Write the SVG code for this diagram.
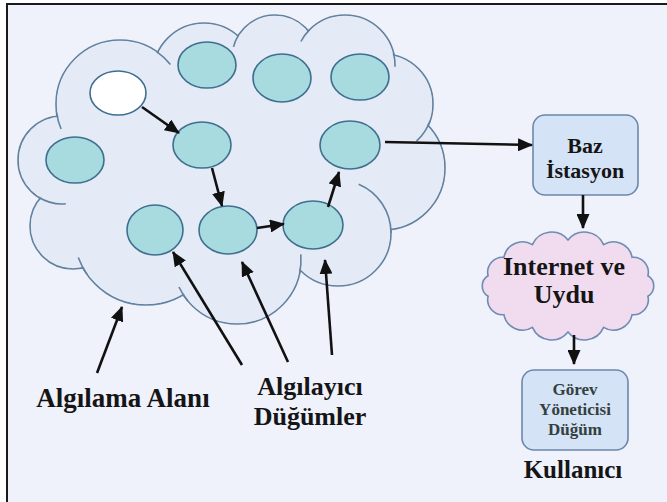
<svg xmlns="http://www.w3.org/2000/svg" width="667" height="502" viewBox="0 0 667 502">
  <defs>
    <style>
      .cloud-line { fill: #e5eaf7; stroke: #62829f; stroke-width: 1.6; }
      .cloud-fill { fill: #e5eaf7; stroke: none; }
      .hook { fill: none; stroke: #62829f; stroke-width: 1.6; }
      .node { fill: #a8dbe0; stroke: #3f6f8f; stroke-width: 1.6; }
      .idle { fill: #ffffff; stroke: #3f6f8f; stroke-width: 1.6; }
      .link { fill: none; stroke: #111111; stroke-width: 2.6; marker-end: url(#ah); }
      .box { fill: #d5e3f6; stroke: #6b87ad; stroke-width: 1.6; }
      .lbl { font-family: "Liberation Serif", "Times New Roman", serif; font-weight: bold; fill: #151515; text-anchor: middle; }
      .small { font-family: "Liberation Serif", "Times New Roman", serif; font-weight: bold; fill: #34403f; text-anchor: middle; font-size: 17px; }
    </style>
    <marker id="ah" viewBox="0 0 15 13" refX="14" refY="6.5" markerWidth="15" markerHeight="13" markerUnits="userSpaceOnUse" orient="auto">
      <path d="M0,0 L15,6.5 L0,13 z" fill="#111111"/>
    </marker>
  </defs>

  <!-- page and frame -->
  <rect x="0" y="0" width="667" height="502" fill="#ffffff"/>
  <rect x="7" y="4" width="700" height="540" fill="#eff1fb" stroke="#1a1a1a" stroke-width="2"/>

  <!-- sensing field: union of bumps -->
  <g id="sensing-field">
    <g>
      <circle class="cloud-line" cx="120" cy="104" r="64"/>
      <circle class="cloud-line" cx="204" cy="74" r="51"/>
      <circle class="cloud-line" cx="275" cy="58" r="43"/>
      <circle class="cloud-line" cx="345" cy="65" r="50"/>
      <circle class="cloud-line" cx="383" cy="104" r="50"/>
      <circle class="cloud-line" cx="383" cy="168" r="62"/>
      <circle class="cloud-line" cx="338" cy="233" r="53"/>
      <circle class="cloud-line" cx="237" cy="260" r="64"/>
      <circle class="cloud-line" cx="146" cy="233" r="72"/>
      <circle class="cloud-line" cx="73" cy="226" r="43"/>
      <circle class="cloud-line" cx="62" cy="160" r="44"/>
    </g>
    <g>
      <circle class="cloud-fill" cx="120" cy="104" r="63"/>
      <circle class="cloud-fill" cx="204" cy="74" r="50"/>
      <circle class="cloud-fill" cx="275" cy="58" r="42"/>
      <circle class="cloud-fill" cx="345" cy="65" r="49"/>
      <circle class="cloud-fill" cx="383" cy="104" r="49"/>
      <circle class="cloud-fill" cx="383" cy="168" r="61"/>
      <circle class="cloud-fill" cx="338" cy="233" r="52"/>
      <circle class="cloud-fill" cx="237" cy="260" r="63"/>
      <circle class="cloud-fill" cx="146" cy="233" r="71"/>
      <circle class="cloud-fill" cx="73" cy="226" r="42"/>
      <circle class="cloud-fill" cx="62" cy="160" r="43"/>
      <ellipse class="cloud-fill" cx="230" cy="165" rx="150" ry="110"/>
    </g>
    <!-- inner arc ends where bumps overlap -->
    <path class="hook" d="M56.6 112.9 A64 64 0 0 0 61.1 129.0"/>
    <path class="hook" d="M156.7 51.6 A64 64 0 0 1 170.4 64.6"/>
    <path class="hook" d="M238.5 35.2 A43 43 0 0 0 233.5 46.9"/>
    <path class="hook" d="M309.6 29.6 A50 50 0 0 0 300.9 41.5"/>
    <path class="hook" d="M393.5 52.9 A50 50 0 0 1 395.0 66.7"/>
    <path class="hook" d="M430.0 121.1 A50 50 0 0 1 416.5 141.2"/>
    <path class="hook" d="M358.7 184.2 A53 53 0 0 1 391 233"/>
    <path class="hook" d="M299.6 273.3 A64 64 0 0 0 300.8 254.4"/>
    <path class="hook" d="M188.0 301.1 A64 64 0 0 1 179.0 287.0"/>
    <path class="hook" d="M87.0 274.3 A72 72 0 0 1 78.3 257.6"/>
    <path class="hook" d="M38.7 197.3 A44 44 0 0 0 65.8 203.8"/>
  </g>

  <!-- sensor nodes -->
  <g id="node-idle"><ellipse class="idle" cx="118" cy="93" rx="28" ry="22"/></g>
  <g id="node-top-1"><ellipse class="node" cx="207" cy="65" rx="29" ry="23"/></g>
  <g id="node-top-2"><ellipse class="node" cx="282" cy="78" rx="29" ry="24"/></g>
  <g id="node-top-3"><ellipse class="node" cx="360" cy="77" rx="29" ry="23"/></g>
  <g id="node-left"><ellipse class="node" cx="75" cy="160" rx="29" ry="23"/></g>
  <g id="node-mid"><ellipse class="node" cx="202" cy="145" rx="29" ry="23"/></g>
  <g id="node-sink"><ellipse class="node" cx="350" cy="145" rx="30" ry="24"/></g>
  <g id="node-low-1"><ellipse class="node" cx="155" cy="230" rx="28" ry="25"/></g>
  <g id="node-low-2"><ellipse class="node" cx="228" cy="230" rx="29" ry="24"/></g>
  <g id="node-low-3"><ellipse class="node" cx="313" cy="225" rx="30" ry="24"/></g>

  <!-- base station -->
  <g id="base-station">
    <rect class="box" x="533" y="115" width="105" height="80" rx="12"/>
    <text class="lbl" x="585" y="153" font-size="22" fill="#2a2f3a">Baz</text>
    <text class="lbl" x="585" y="178" font-size="22" fill="#2a2f3a">İstasyon</text>
  </g>

  <!-- internet and satellite -->
  <g id="internet">
    <path d="M568 240 A21 21 0 0 1 603.6 244.6 A19 19 0 0 1 632.1 257.3 A15 15 0 0 1 647.9 275.7 A12 12 0 0 1 647.9 296.3 A15 15 0 0 1 632.1 314.7 A19 19 0 0 1 603.6 327.4 A21 21 0 0 1 568 332 A21 21 0 0 1 532.4 327.4 A19 19 0 0 1 503.9 314.7 A15 15 0 0 1 488.1 296.3 A12 12 0 0 1 488.1 275.7 A15 15 0 0 1 503.9 257.3 A19 19 0 0 1 532.4 244.6 A21 21 0 0 1 568 240 Z" fill="#f1dcef" stroke="#6f8bb3" stroke-width="1.6"/>
    <text class="lbl" x="564" y="275" font-size="26">Internet ve</text>
    <text class="lbl" x="564" y="303" font-size="26">Uydu</text>
  </g>

  <!-- task manager node -->
  <g id="task-manager">
    <rect class="box" x="522" y="370" width="106" height="80" rx="12"/>
    <text class="small" x="575" y="395">Görev</text>
    <text class="small" x="575" y="415">Yöneticisi</text>
    <text class="small" x="575" y="435">Düğüm</text>
  </g>

  <!-- labels -->
  <g id="label-user"><text class="lbl" x="573" y="478" font-size="25">Kullanıcı</text></g>
  <g id="label-field"><text class="lbl" x="123" y="407" font-size="27">Algılama Alanı</text></g>
  <g id="label-sensors">
    <text class="lbl" x="310" y="395" font-size="26">Algılayıcı</text>
    <text class="lbl" x="310" y="425" font-size="26">Düğümler</text>
  </g>

  <!-- connectors -->
  <g id="connectors">
    <line class="link" x1="142" y1="107" x2="179" y2="133"/>
    <line class="link" x1="212" y1="168" x2="222" y2="206"/>
    <line class="link" x1="257" y1="228" x2="284" y2="224"/>
    <line class="link" x1="328" y1="207" x2="339" y2="172"/>
    <line class="link" x1="385" y1="142" x2="532" y2="145"/>
    <line class="link" x1="583" y1="195" x2="583" y2="228"/>
    <line class="link" x1="574" y1="335" x2="574" y2="364"/>
    <line class="link" x1="97" y1="373" x2="122" y2="307"/>
    <line class="link" x1="242" y1="365" x2="173" y2="252"/>
    <line class="link" x1="288" y1="362" x2="242" y2="262"/>
    <line class="link" x1="332" y1="355" x2="325" y2="260"/>
  </g>
</svg>
